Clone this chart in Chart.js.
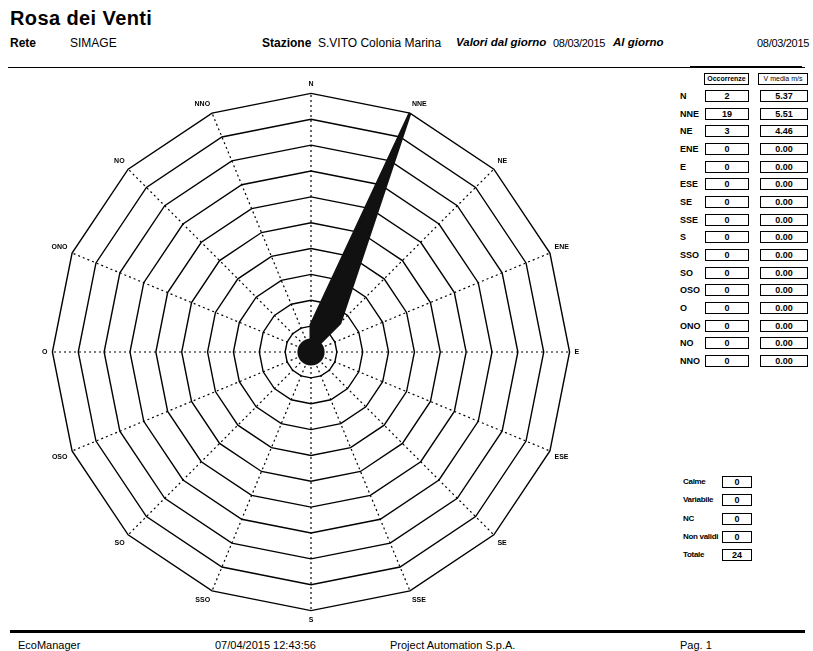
<!DOCTYPE html>
<html>
<head>
<meta charset="utf-8">
<script src="https://cdn.jsdelivr.net/npm/chart.js@4.4.1/dist/chart.umd.min.js"></script>
<style>
  body { margin: 0; background: #fff; font-family: "Liberation Sans", Arial, sans-serif; color: #000; }
  #page { position: relative; width: 813px; height: 651px; overflow: hidden; }
  .t { position: absolute; white-space: nowrap; }
  #title { left: 10px; top: 7px; font-size: 20px; font-weight: bold; letter-spacing: 0.4px; }
  .hdr { top: 36px; font-size: 12px; }
  .d { font-size: 11px; letter-spacing: -0.3px; top: 37px; }
  .b { font-weight: bold; }
  .bi { font-weight: bold; font-style: italic; font-size: 11.5px; top: 36px; }
  #chartBox { position: absolute; left: 0; top: 80px; width: 622px; height: 544px; }
  .rule { position: absolute; background: #000; }
  .lbl { position: absolute; font-size: 9px; font-weight: bold; }
  .box { position: absolute; border: 1.5px solid #000; height: 10px; font-size: 9px; font-weight: bold;
         text-align: center; line-height: 10px; box-sizing: content-box; }
  .foot { top: 639px; font-size: 11px; }
</style>
</head>
<body>
<div id="page">
  <div id="title" class="t">Rosa dei Venti</div>
  <div class="t hdr b" style="left:10px">Rete</div>
  <div class="t hdr" style="left:70px">SIMAGE</div>
  <div class="t hdr b" style="left:262px">Stazione</div>
  <div class="t hdr" style="left:318px">S.VITO Colonia Marina</div>
  <div class="t bi" style="left:456px">Valori dal giorno</div>
  <div class="t d" style="left:553px">08/03/2015</div>
  <div class="t bi" style="left:613px">Al giorno</div>
  <div class="t d" style="left:757px">08/03/2015</div>
  <div class="rule" style="left:8px;top:67px;width:797px;height:1px"></div>
  <div class="rule" style="left:690px;top:66px;width:112px;height:2px"></div>

  <div id="chartBox"><canvas id="rose"></canvas></div>
  <div id="table"></div>

  <div class="rule" style="left:10px;top:630px;width:795px;height:3px"></div>
  <div class="t foot" style="left:18px">EcoManager</div>
  <div class="t foot" style="left:215px">07/04/2015 12:43:56</div>
  <div class="t foot" style="left:390px">Project Automation S.p.A.</div>
  <div class="t foot" style="left:680px">Pag. 1</div>
</div>

<script>
// dati
const directions = ["N", "NNE", "NE", "ENE", "E", "ESE", "SE", "SSE", "S", "SSO", "SO", "OSO", "O", "ONO", "NO", "NNO"];
const occurrences = [2, 19, 3, 0, 0, 0, 0, 0, 0, 0, 0, 0, 0, 0, 0, 0];
const meanSpeeds = [5.37, 5.51, 4.46, 0, 0, 0, 0, 0, 0, 0, 0, 0, 0, 0, 0, 0];
const tableHeaders = ["Occorrenze", "V media m/s"];
const summaryLabels = ["Calme", "Variabile", "NC", "Non validi", "Totale"];
const summaryValues = [0, 0, 0, 0, 24];

// tabella a destra
const table = document.getElementById("table");
let html = "";
html += `<div class="box" style="left:704px;top:73px;width:43px;font-size:7px">${tableHeaders[0]}</div>`;
html += `<div class="box" style="left:758px;top:73px;width:48px;font-size:7px;font-weight:normal">${tableHeaders[1]}</div>`;
directions.forEach((d, i) => {
  const y = 91 + i * 17.67;
  html += `<div class="lbl" style="left:680px;top:${y}px">${d}</div>`;
  html += `<div class="box" style="left:705px;top:${y - 1}px;width:42px">${occurrences[i]}</div>`;
  html += `<div class="box" style="left:760px;top:${y - 1}px;width:46px">${meanSpeeds[i].toFixed(2)}</div>`;
});
summaryLabels.forEach((s, i) => {
  const y = 477 + i * 18.3;
  html += `<div class="lbl" style="left:683px;top:${y}px;font-size:8px;letter-spacing:-0.3px">${s}</div>`;
  html += `<div class="box" style="left:722px;top:${y - 1}px;width:28px">${summaryValues[i]}</div>`;
});
table.innerHTML = html;

// cerchio delle calme al centro
const calmCircle = {
  id: "calmCircle",
  afterDatasetsDraw(chart) {
    const s = chart.scales.r;
    const ctx = chart.ctx;
    ctx.save();
    ctx.beginPath();
    ctx.arc(s.xCenter, s.yCenter, s.getDistanceFromCenterForValue(1), 0, Math.PI * 2);
    ctx.fillStyle = "#111";
    ctx.fill();
    ctx.restore();
  }
};

const ctx = document.getElementById("rose").getContext("2d");
new Chart(ctx, {
  type: "radar",
  data: {
    labels: directions,
    datasets: [{
      data: occurrences,
      backgroundColor: "#111",
      borderColor: "#111",
      borderWidth: 3,
      pointRadius: 0,
      fill: true
    }]
  },
  options: {
    responsive: true,
    maintainAspectRatio: false,
    animation: false,
    plugins: { legend: { display: false }, tooltip: { enabled: false } },
    layout: { padding: 0 },
    scales: {
      r: {
        min: 0,
        max: Math.max(...occurrences),
        ticks: { display: false, stepSize: 1.9 },
        grid: { color: "#000", lineWidth: 1.4 },
        angleLines: { color: "#000", lineWidth: 1.2, borderDash: [2, 3] },
        pointLabels: {
          color: "#000",
          padding: 5,
          font: { family: "Liberation Sans", size: 7, weight: "bold" }
        }
      }
    }
  },
  plugins: [calmCircle]
});
</script>
</body>
</html>
